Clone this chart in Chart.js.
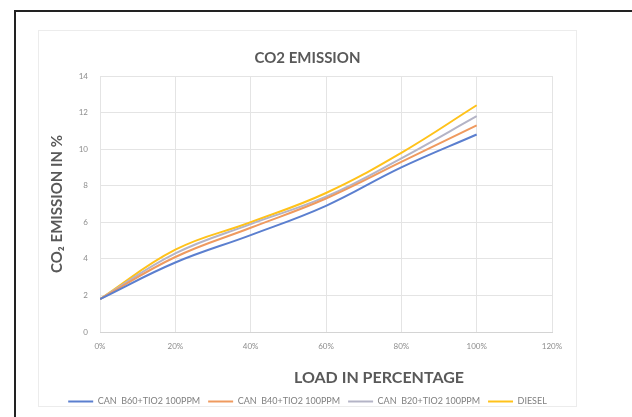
<!DOCTYPE html>
<html>
<head>
<meta charset="utf-8">
<script src="https://cdn.jsdelivr.net/npm/chart.js@4.4.1/dist/chart.umd.min.js"></script>
<style>
  html, body { margin:0; padding:0; background:#fff; width:632px; height:417px; overflow:hidden; font-family: Lato, "Open Sans", sans-serif; }
  #frame { position:absolute; left:14px; top:10px; width:640px; height:420px; border-left:2px solid #222; border-top:2px solid #222; }
  #box { position:absolute; left:38px; top:30px; width:539px; height:377px; border:1px solid #ececec; box-sizing:border-box; }
  #wrap { position:absolute; left:38px; top:30px; width:539px; height:386px; }
  #xTitle { position:absolute; left:279px; width:200px; top:367px; text-align:center; font:bold 16px Lato, sans-serif; color:#595959; }
</style>
</head>
<body>
<div id="frame"></div>
<div id="box"></div>
<div id="wrap"><canvas id="chart"></canvas></div>
<div id="xTitle">LOAD IN PERCENTAGE</div>
<script>
// load points (%) and CO2 emission readings (%)
const LOADS = [0, 20, 40, 60, 80, 100];
const B60 = [1.8, 3.8, 5.3, 6.9, 9.0, 10.8];
const B40 = [1.8, 4.1, 5.7, 7.3, 9.3, 11.3];
const B20 = [1.8, 4.3, 5.9, 7.4, 9.5, 11.8];
const DIESEL = [1.8, 4.5, 6.0, 7.6, 9.8, 12.4];

const NAMES = ["CAN  B60+TIO2 100PPM", "CAN  B40+TIO2 100PPM", "CAN  B20+TIO2 100PPM", "DIESEL"];
const SERIES = [B60, B40, B20, DIESEL];
const COLORS = ["#5b7fcf", "#ef9a5f", "#b4b4c6", "#ffc21a"];

const pts = arr => arr.map((v, i) => ({ x: LOADS[i], y: v }));

new Chart(document.getElementById("chart"), {
  type: "line",
  data: {
    datasets: SERIES.map((s, i) => ({
      label: NAMES[i],
      data: pts(s),
      borderColor: COLORS[i],
      backgroundColor: COLORS[i],
      borderWidth: 2,
      pointRadius: 0,
      tension: 0.4
    }))
  },
  options: {
    responsive: true,
    maintainAspectRatio: false,
    animation: false,
    layout: { padding: { top: 19, left: 0, right: 0, bottom: 0 } },
    plugins: {
      title: {
        display: true, text: "CO2 EMISSION", color: "#595959",
        font: { family: "Lato", size: 15, weight: "bold" },
        padding: { top: 0, bottom: 9 }
      },
      legend: {
        position: "bottom",
        labels: {
          usePointStyle: true, pointStyle: "line", pointStyleWidth: 25,
          color: "#7f7f7f", font: { family: "Lato", size: 9 }, padding: 8
        }
      },
      tooltip: { enabled: false }
    },
    scales: {
      x: {
        type: "linear", min: 0, max: 120,
        ticks: { stepSize: 20, callback: v => v + "%", color: "#8c8c8c", font: { family: "Lato", size: 8 }, padding: 10 },
        grid: { color: "#e4e4e4", drawTicks: false },
        border: { color: "#d4d4d4" },
        afterFit: s => { s.height = 57; }
      },
      y: {
        min: 0, max: 14,
        ticks: { stepSize: 2, color: "#8c8c8c", font: { family: "Lato", size: 8 }, padding: 12 },
        grid: { color: "#e4e4e4", drawTicks: false },
        border: { display: false },
        title: {
          display: true, text: "CO₂ EMISSION IN %", color: "#595959",
          font: { family: "Lato", size: 15, weight: "bold" }, padding: { top: 10 }
        },
        afterFit: s => { s.width = 62; }
      },
      // empty right-hand gutter so the legend centres on the whole box
      gutter: {
        position: "right", min: 0, max: 14,
        ticks: { display: false },
        grid: { display: false },
        border: { display: false },
        afterFit: s => { s.width = 25; }
      }
    }
  }
});
</script>
</body>
</html>
